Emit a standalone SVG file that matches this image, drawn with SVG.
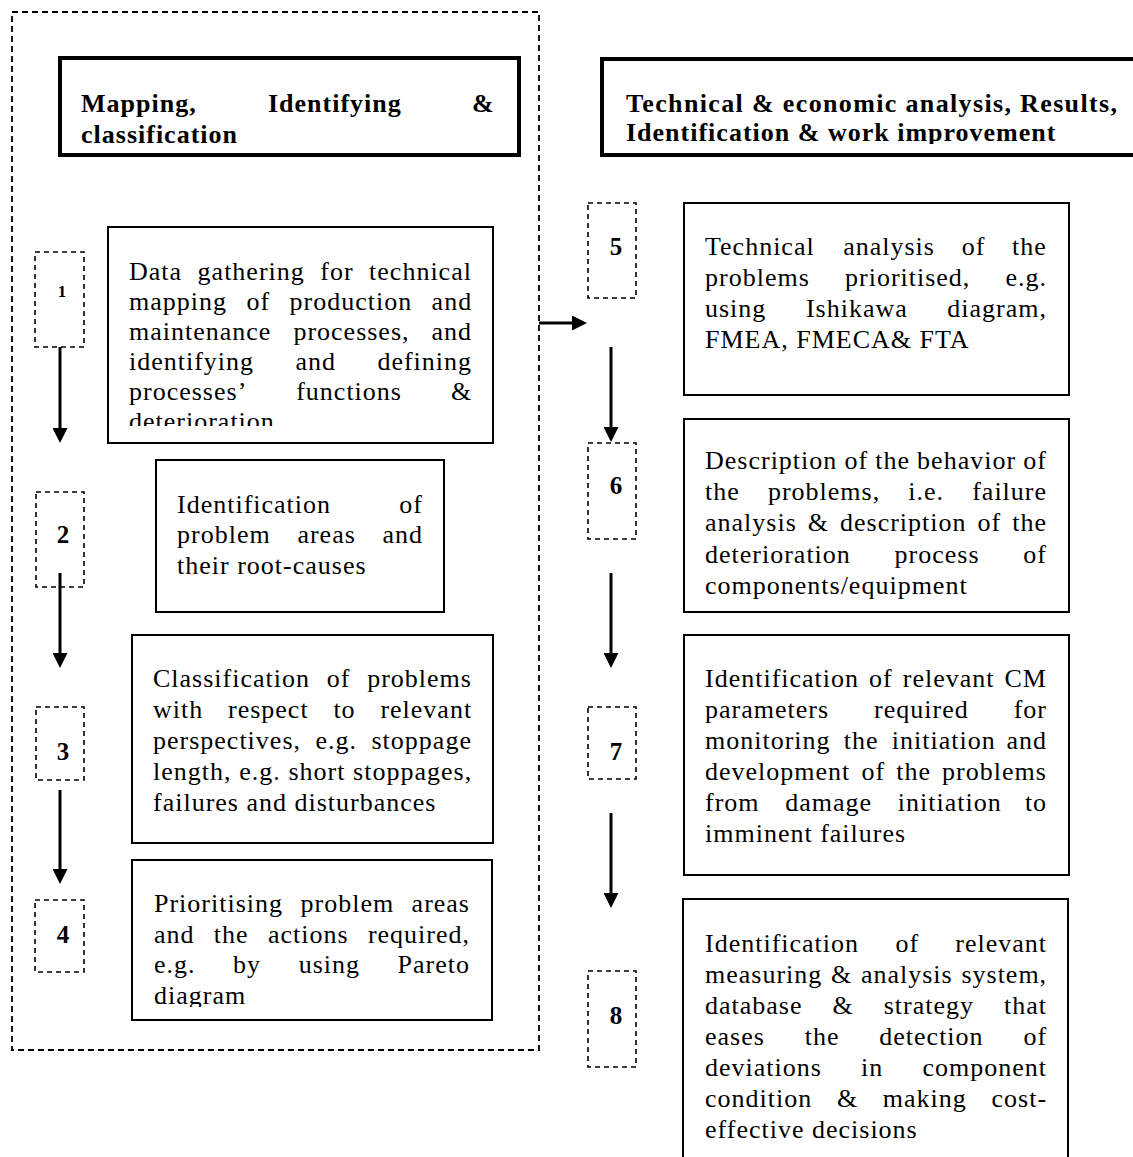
<svg xmlns="http://www.w3.org/2000/svg" width="1133" height="1157" viewBox="0 0 1133 1157">
<style>
.outer{fill:none;stroke:#000;stroke-width:1.8;stroke-dasharray:6 4}
.num{fill:none;stroke:#000;stroke-width:1.6;stroke-dasharray:5 4}
.box{fill:#fff;stroke:#000;stroke-width:2}
.hdr{fill:#fff;stroke:#000;stroke-width:4}
.t{font-family:"Liberation Serif","Times New Roman",serif;font-size:26px;letter-spacing:1px;fill:#000}
.h{font-family:"Liberation Serif","Times New Roman",serif;font-size:26px;font-weight:bold;letter-spacing:1px;fill:#000}
.n{font-family:"Liberation Serif","Times New Roman",serif;font-size:25px;font-weight:bold;fill:#000;text-anchor:middle}
.c{fill:none;stroke:#000;stroke-width:3}
</style>
<defs>
<marker id="ah" viewBox="0 0 10 10" refX="2" refY="5" markerWidth="5" markerHeight="5" orient="auto" markerUnits="strokeWidth">
<path d="M0,0 L10,5 L0,10 z" fill="#000"/>
</marker>
<clipPath id="cHR"><rect x="604" y="61" width="540" height="83"/></clipPath>
<clipPath id="cB1"><rect x="109" y="228" width="383" height="198"/></clipPath>
<clipPath id="cB4"><rect x="133" y="861" width="358" height="146"/></clipPath>
</defs>

<rect class="outer" x="12" y="12" width="527" height="1038"/>

<g id="header-left">
<rect class="hdr" x="60" y="58" width="459" height="97"/>
<text class="h" y="112"><tspan x="81">Mapping,</tspan><tspan x="268">Identifying</tspan><tspan x="472">&amp;</tspan></text>
<text class="h" x="81" y="143">classification</text>
</g>

<g id="header-right">
<rect class="hdr" x="602" y="59" width="560" height="96"/>
<g clip-path="url(#cHR)">
<text class="h" x="626" y="112" textLength="492" lengthAdjust="spacing">Technical &amp; economic analysis, Results,</text>
<text class="h" x="626" y="141">Identification &amp; work improvement</text>
</g>
</g>

<g id="n1"><rect class="num" x="35" y="252" width="49" height="95"/><text class="n" x="62" y="297" style="font-size:17px">1</text></g>
<g id="n2"><rect class="num" x="36" y="492" width="48" height="95"/><text class="n" x="63" y="543">2</text></g>
<g id="n3"><rect class="num" x="36" y="707" width="48" height="73"/><text class="n" x="63" y="760">3</text></g>
<g id="n4"><rect class="num" x="35" y="900" width="49" height="72"/><text class="n" x="63" y="943">4</text></g>
<g id="n5"><rect class="num" x="588" y="203" width="48" height="95"/><text class="n" x="616" y="255">5</text></g>
<g id="n6"><rect class="num" x="588" y="443" width="48" height="96"/><text class="n" x="616" y="494">6</text></g>
<g id="n7"><rect class="num" x="588" y="707" width="48" height="72"/><text class="n" x="616" y="760">7</text></g>
<g id="n8"><rect class="num" x="588" y="971" width="48" height="96"/><text class="n" x="616" y="1024">8</text></g>

<g id="box1">
<rect class="box" x="108" y="227" width="385" height="216"/>
<g clip-path="url(#cB1)">
<text class="t" y="280"><tspan x="129">Data</tspan><tspan x="197.6">gathering</tspan><tspan x="320.3">for</tspan><tspan x="369.1">technical</tspan></text>
<text class="t" y="310"><tspan x="129">mapping</tspan><tspan x="246.4">of</tspan><tspan x="289.5">production</tspan><tspan x="431.6">and</tspan></text>
<text class="t" y="340"><tspan x="129">maintenance</tspan><tspan x="293.4">processes,</tspan><tspan x="431.5">and</tspan></text>
<text class="t" y="370"><tspan x="129">identifying</tspan><tspan x="295.5">and</tspan><tspan x="377.4">defining</tspan></text>
<text class="t" y="400"><tspan x="129">processes’</tspan><tspan x="296.2">functions</tspan><tspan x="450.9">&amp;</tspan></text>
<text class="t" x="129" y="430">deterioration</text>
</g>
</g>

<g id="box2">
<rect class="box" x="156" y="460" width="288" height="152"/>
<text class="t" y="513"><tspan x="177">Identification</tspan><tspan x="399.3">of</tspan></text>
<text class="t" y="543"><tspan x="177">problem</tspan><tspan x="297.4">areas</tspan><tspan x="382.5">and</tspan></text>
<text class="t" x="177" y="574">their root-causes</text>
</g>

<g id="box3">
<rect class="box" x="132" y="635" width="361" height="208"/>
<text class="t" y="687"><tspan x="153">Classification</tspan><tspan x="326.8">of</tspan><tspan x="367.2">problems</tspan></text>
<text class="t" y="718"><tspan x="153">with</tspan><tspan x="228">respect</tspan><tspan x="333.4">to</tspan><tspan x="380.4">relevant</tspan></text>
<text class="t" y="749"><tspan x="153">perspectives,</tspan><tspan x="315.5">e.g.</tspan><tspan x="371.5">stoppage</tspan></text>
<text class="t" y="780"><tspan x="153">length,</tspan><tspan x="239.2">e.g.</tspan><tspan x="288.4">short</tspan><tspan x="353.1">stoppages,</tspan></text>
<text class="t" x="153" y="811">failures and disturbances</text>
</g>

<g id="box4">
<rect class="box" x="132" y="860" width="360" height="160"/>
<g clip-path="url(#cB4)">
<text class="t" y="912"><tspan x="154">Prioritising</tspan><tspan x="300.5">problem</tspan><tspan x="411.6">areas</tspan></text>
<text class="t" y="943"><tspan x="154">and</tspan><tspan x="213.8">the</tspan><tspan x="267.9">actions</tspan><tspan x="367.9">required,</tspan></text>
<text class="t" y="973"><tspan x="154">e.g.</tspan><tspan x="233.1">by</tspan><tspan x="298.7">using</tspan><tspan x="397.6">Pareto</tspan></text>
<text class="t" x="154" y="1004">diagram</text>
</g>
</g>

<g id="box5">
<rect class="box" x="684" y="203" width="385" height="192"/>
<text class="t" y="255"><tspan x="705">Technical</tspan><tspan x="843.2">analysis</tspan><tspan x="961.7">of</tspan><tspan x="1012.1">the</tspan></text>
<text class="t" y="286"><tspan x="705">problems</tspan><tspan x="845">prioritised,</tspan><tspan x="1005.5">e.g.</tspan></text>
<text class="t" y="317"><tspan x="705">using</tspan><tspan x="805.9">Ishikawa</tspan><tspan x="947.3">diagram,</tspan></text>
<text class="t" x="705" y="348">FMEA, FMECA&amp; FTA</text>
</g>

<g id="box6">
<rect class="box" x="684" y="419" width="385" height="193"/>
<text class="t" y="469"><tspan x="705">Description</tspan><tspan x="844.4">of</tspan><tspan x="875.2">the</tspan><tspan x="917.1">behavior</tspan><tspan x="1023.2">of</tspan></text>
<text class="t" y="500"><tspan x="705">the</tspan><tspan x="767.9">problems,</tspan><tspan x="908.3">i.e.</tspan><tspan x="972.2">failure</tspan></text>
<text class="t" y="531"><tspan x="705">analysis</tspan><tspan x="807.8">&amp;</tspan><tspan x="840">description</tspan><tspan x="977.5">of</tspan><tspan x="1012.2">the</tspan></text>
<text class="t" y="563"><tspan x="705">deterioration</tspan><tspan x="894.6">process</tspan><tspan x="1023.3">of</tspan></text>
<text class="t" x="705" y="594">components/equipment</text>
</g>

<g id="box7">
<rect class="box" x="684" y="635" width="385" height="240"/>
<text class="t" y="687"><tspan x="705">Identification</tspan><tspan x="869.1">of</tspan><tspan x="902.8">relevant</tspan><tspan x="1004.5">CM</tspan></text>
<text class="t" y="718"><tspan x="705">parameters</tspan><tspan x="874.1">required</tspan><tspan x="1013.7">for</tspan></text>
<text class="t" y="749"><tspan x="705">monitoring</tspan><tspan x="843.8">the</tspan><tspan x="891.8">initiation</tspan><tspan x="1006.4">and</tspan></text>
<text class="t" y="780"><tspan x="705">development</tspan><tspan x="861.4">of</tspan><tspan x="896.2">the</tspan><tspan x="942.1">problems</tspan></text>
<text class="t" y="811"><tspan x="705">from</tspan><tspan x="785.2">damage</tspan><tspan x="897.8">initiation</tspan><tspan x="1024.9">to</tspan></text>
<text class="t" x="705" y="842">imminent failures</text>
</g>

<g id="box8">
<rect class="box" x="683" y="899" width="385" height="280"/>
<text class="t" y="952"><tspan x="705">Identification</tspan><tspan x="895.4">of</tspan><tspan x="955.3">relevant</tspan></text>
<text class="t" y="983"><tspan x="705">measuring</tspan><tspan x="831">&amp;</tspan><tspan x="860.9">analysis</tspan><tspan x="961.4">system,</tspan></text>
<text class="t" y="1014"><tspan x="705">database</tspan><tspan x="832.5">&amp;</tspan><tspan x="883.7">strategy</tspan><tspan x="1004">that</tspan></text>
<text class="t" y="1045"><tspan x="705">eases</tspan><tspan x="804.7">the</tspan><tspan x="879.3">detection</tspan><tspan x="1023.4">of</tspan></text>
<text class="t" y="1076"><tspan x="705">deviations</tspan><tspan x="861.1">in</tspan><tspan x="922.5">component</tspan></text>
<text class="t" y="1107"><tspan x="705">condition</tspan><tspan x="836.9">&amp;</tspan><tspan x="882.8">making</tspan><tspan x="991.5">cost-</tspan></text>
<text class="t" x="705" y="1138">effective decisions</text>
</g>

<g id="connectors">
<line class="c" x1="60" y1="347" x2="60" y2="431" marker-end="url(#ah)"/>
<line class="c" x1="60" y1="573" x2="60" y2="656" marker-end="url(#ah)"/>
<line class="c" x1="60" y1="790" x2="60" y2="872" marker-end="url(#ah)"/>
<line class="c" x1="539" y1="323" x2="575" y2="323" marker-end="url(#ah)"/>
<line class="c" x1="611" y1="347" x2="611" y2="430" marker-end="url(#ah)"/>
<line class="c" x1="611" y1="573" x2="611" y2="656" marker-end="url(#ah)"/>
<line class="c" x1="611" y1="813" x2="611" y2="896" marker-end="url(#ah)"/>
</g>
</svg>
